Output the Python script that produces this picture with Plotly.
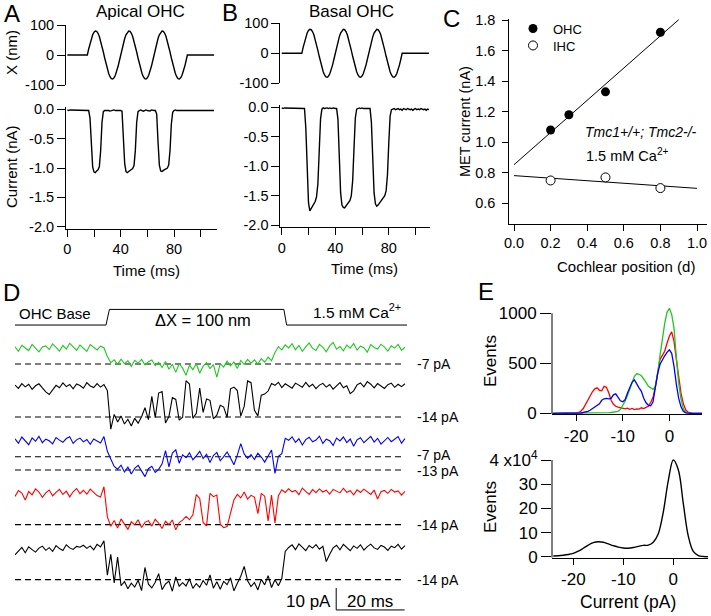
import numpy as np
import plotly.graph_objects as go

W, H = 711, 616
FONT = "Liberation Sans, Arial, sans-serif"
GREEN = "#1ec81e"

# ---------------- A / B : sinusoidal bundle deflection and MET current
stim_time_ms = [0] + list(range(15, 91)) + [110]
stim_nm = [0,
           0, 19.9, 38.5, 54.8, 67.5, 76.1, 79.8, 78.6, 72.4, 61.6, 47.0, 29.5, 10.0,
           -10.0, -29.5, -47.0, -61.6, -72.4, -78.6, -79.8, -76.1, -67.5, -54.8, -38.5, -19.9,
           0, 19.9, 38.5, 54.8, 67.5, 76.1, 79.8, 78.6, 72.4, 61.6, 47.0, 29.5, 10.0,
           -10.0, -29.5, -47.0, -61.6, -72.4, -78.6, -79.8, -76.1, -67.5, -54.8, -38.5, -19.9,
           0, 19.9, 38.5, 54.8, 67.5, 76.1, 79.8, 78.6, 72.4, 61.6, 47.0, 29.5, 10.0,
           -10.0, -29.5, -47.0, -61.6, -72.4, -78.6, -79.8, -76.1, -67.5, -54.8, -38.5, -19.9,
           0,
           0]

current_time_ms = list(range(111))
apical_nA = [
    -0.01, -0.02, -0.01, -0.01, -0.02, -0.01, -0.02, -0.01, -0.02, -0.01,
    -0.02, -0.01, -0.02, -0.02, -0.01, -0.02, -0.02,
    -0.15, -0.62, -0.98, -1.07, -1.08, -1.05, -1.03, -0.98, -0.70, -0.22, -0.04,
    -0.02, -0.02, -0.01, -0.02, -0.03, -0.02, -0.02, -0.01, -0.02, -0.02, -0.01, -0.02, -0.02, -0.03,
    -0.45, -0.92, -1.06, -1.08, -1.06, -1.04, -1.03, -1.01, -0.96, -0.70, -0.22, -0.04,
    -0.02, -0.01, -0.02, -0.03, -0.02, -0.01, -0.02, -0.02, -0.03, -0.01, -0.02, -0.02, -0.02,
    -0.08, -0.55, -0.95, -1.05, -1.06, -1.04, -1.03, -1.02, -1.00, -0.95, -0.70, -0.25, -0.05,
    -0.02, -0.01, -0.02, -0.02, -0.01, -0.02, -0.01, -0.02, -0.02, -0.01,
    -0.02, -0.01, -0.02, -0.02, -0.01, -0.02, -0.01, -0.02, -0.01, -0.02,
    -0.02, -0.01, -0.02, -0.01, -0.02, -0.02, -0.01, -0.02, -0.01, -0.02,
    -0.02]
basal_nA = [
    -0.01, -0.02, -0.01, -0.01, -0.02, -0.01, -0.01, -0.02, -0.01, -0.02,
    -0.01, -0.01, -0.02, -0.01, -0.02, -0.01, -0.01, -0.02,
    -0.35, -1.10, -1.62, -1.76, -1.72, -1.68, -1.64, -1.60, -1.52, -1.30, -0.75, -0.20, -0.03,
    -0.01, -0.02, -0.01, -0.01, -0.02, -0.01, -0.02, -0.01, -0.01, -0.02, -0.02,
    -0.20, -0.85, -1.45, -1.66, -1.70, -1.71, -1.68, -1.65, -1.62, -1.58, -1.50, -1.25, -0.70, -0.18, -0.03,
    -0.02, -0.01, -0.02, -0.01, -0.02, -0.02, -0.01, -0.02, -0.01, -0.02,
    -0.25, -0.90, -1.45, -1.64, -1.68, -1.66, -1.63, -1.60, -1.57, -1.54, -1.50, -1.42, -1.15, -0.60, -0.15, -0.04,
    -0.03, -0.02, -0.04, -0.03, -0.02, -0.04, -0.03, -0.05, -0.02, -0.03,
    -0.04, -0.02, -0.03, -0.04, -0.03, -0.05, -0.03, -0.02, -0.04, -0.03,
    -0.04, -0.02, -0.03, -0.04, -0.03, -0.05, -0.03, -0.04]

# ---------------- C : MET current vs cochlear position
ohc_position = [0.2, 0.3, 0.5, 0.8]
ohc_nA = [1.08, 1.18, 1.33, 1.72]
ihc_position = [0.2, 0.5, 0.8]
ihc_nA = [0.75, 0.77, 0.70]

# ---------------- D : single-channel records (pA re. closed level)
trace_time_ms = list(range(115))
green_pA = [
    0.8, -1.2, 1.5, 0.3, -0.9, 1.9, 0.2, -1.5, 0.7, 1.2,
    -0.4, 2.1, 0.6, -1.1, 1.4, -0.2, 2.4, 0.9, -0.8, 1.6,
    0.1, -1.3, 1.8, 0.5, -0.6, 1.1, 0.4, -3.6, -6.4, -5.1,
    -7.2, -4.8, -6.9, -5.6, -8.1, -5.3, -6.6, -4.9, -7.4, -6.0,
    -5.2, -7.8, -6.3, -8.6, -5.9, -9.4, -7.1, -10.8, -6.8, -8.9,
    -12.1, -7.5, -9.6, -6.9, -11.2, -8.0, -6.4, -9.1, -7.3, -13.0,
    -6.8, -8.4, -5.7, -7.9, -6.1, -9.0, -5.4, -7.2, -4.9, -6.6,
    -5.1, -7.0, -4.6, -6.2, -3.9, -5.5, -1.8, 0.9, -0.6, 1.7,
    0.3, 2.2, -0.5, 1.4, -1.2, 0.8, 2.6, 0.1, -0.9, 1.9,
    0.6, -1.4, 1.2, 2.8, -0.3, 0.9, -1.0, 1.6, 0.2, 2.3,
    -0.7, 1.1, 0.4, -1.6, 1.8, 0.5, -0.2, 2.0, 0.7, -1.1,
    1.3, 0.2, 1.9, -0.8, 0.6]
black1_pA = [
    0.5, -1.0, 1.2, -0.3, 0.9, -1.4, 0.2, 1.1, -0.8, -2.6,
    -3.8, -1.9, 0.4, -0.7, 1.5, -0.2, 0.8, -1.2, 1.0, 0.3,
    -0.9, 1.6, 0.1, -0.6, 1.2, -0.4, 0.7, -2.0, -19.5, -12.8,
    -16.3, -13.5, -17.2, -15.0, -18.1, -14.6, -16.8, -13.9, -9.8, -15.2,
    -4.6, -14.3, -3.1, -2.4, -16.7, -13.8, -5.2, -6.0, -15.4, -14.1,
    2.5, 1.0, -14.6, -12.3, -0.8, -11.9, -5.8, -6.4, -14.8, -13.2,
    -8.7, -9.5, -14.2, -1.2, -0.4, -2.0, -13.6, -9.2, 2.4, 1.6,
    -11.0, -13.5, -4.1, -3.6, -2.2, 1.2, 0.4, 1.8, -0.6, 1.1,
    0.2, -0.9, 1.4, 0.6, -0.5, 1.7, -0.2, 0.9, -1.1, 0.5,
    1.3, -0.4, 0.8, -1.3, 0.4, 1.6, -0.7, 0.2, -3.4, -2.1,
    0.6, 1.5, -0.3, 2.1, 0.9, -0.8, 1.2, 0.1, -1.0, 0.7,
    1.4, -0.5, 0.9, -0.2, 1.1]
blue_pA = [
    1.2, -0.8, 2.0, 0.4, -1.5, 1.6, 0.1, 2.3, -0.6, 1.0,
    0.3, -1.1, 1.8, 0.6, -0.4, 1.3, 2.1, -0.9, 0.7, 1.5,
    -0.2, 0.9, -1.3, 1.1, 0.2, -0.7, 2.2, -4.5, -8.0, -11.4,
    -12.6, -10.8, -13.9, -11.7, -14.8, -12.2, -10.9, -13.5, -16.0, -12.4,
    -11.3, -14.1, -12.7, -10.2, -4.2, -11.6, -5.3, -3.8, -9.9, -6.1,
    -7.4, -5.2, -8.3, -6.6, -4.5, -7.8, -5.9, -9.6, -6.4, -5.0,
    -8.8, -6.9, -4.8, -7.5, -10.6, -6.2, -1.0, -5.7, -7.7, -6.0,
    -8.2, -5.4, -7.1, -9.4, -6.5, -3.9, -14.5, -6.8, -5.6, 1.4,
    0.5, 2.1, -0.4, 1.2, -1.6, 0.8, 1.9, -0.2, 0.6, 2.4,
    -0.9, 1.0, 0.3, -1.8, 1.5, 0.2, 2.0, -0.5, 1.1, -2.2,
    0.7, 1.7, -0.6, 0.9, 2.3, -0.3, 1.4, -1.2, 0.4, 1.8,
    -0.1, 1.0, 2.2, -0.8, 1.3]
red_pA = [
    -1.2, 1.5, 0.3, -2.8, 1.0, -0.5, 2.2, 0.8, -1.6, 0.4,
    1.7, -0.9, 0.6, 2.0, -0.3, 1.2, -1.4, 0.9, 2.4, 0.1,
    1.6, -0.2, 2.1, 0.7, -0.8, -1.5, 3.2, -10.5, -14.8, -12.1,
    -15.6, -11.4, -13.8, -16.2, -12.7, -14.1, -11.8, -15.3, -13.0, -12.2,
    -14.7, -11.6, -13.4, -15.8, -12.5, -14.0, -11.9, -16.4, -13.1, -12.0,
    -10.3, -11.8, -9.6, -0.4, -2.1, -13.0, -14.6, 0.2, -1.3, -0.6,
    -13.8, -15.4, -14.9, -8.6, -2.8, -0.3, -1.9, 0.8, -2.4, -0.7,
    -1.5, -9.0, 0.2, -1.1, -12.3, -0.6, -13.2, -0.9, 1.8, 0.6,
    2.3, 0.9, 1.5, -0.4, 2.6, 1.1, -0.3, 1.9, 0.5, 2.2,
    0.8, 1.6, -0.2, 2.0, 1.2, 0.4, 2.5, 0.7, 1.4, -0.5,
    1.8, 0.6, 2.1, 1.0, -0.3, 1.7, -2.4, 0.9, 1.5, 0.2,
    2.0, 0.8, 1.3, -0.6, 1.1]
black2_pA = [
    -2.8, -1.0, 0.6, -1.8, 0.9, -0.4, -1.5, 0.3, 1.2, -0.7,
    0.5, -1.2, 1.4, 0.1, -0.8, 1.8, 0.4, -0.3, 1.1, 0.7,
    1.6, 0.2, 1.3, -0.5, 2.0, 0.8, 3.6, -12.0, -2.5, -15.5,
    -3.8, -16.8, -14.9, -18.2, -15.6, -17.4, -14.3, -19.0, -8.5, -16.1,
    -17.8, -15.2, -11.3, -18.6, -16.0, -14.7, -19.3, -12.8, -17.0, -15.4,
    -16.9, -13.6, -18.0, -15.8, -17.5, -14.4, -16.6, -11.9, -17.9, -15.0,
    -18.4, -14.8, -16.3, -13.2, -19.1, -15.7, -12.5, -8.0, -14.6, -17.2,
    -15.3, -18.7, -13.9, -16.4, -12.2, -17.6, -14.1, -16.8, -13.5, -1.2,
    0.6, 1.8, -0.4, 2.2, 0.9, -0.8, 1.5, 0.3, 1.9, -0.2,
    1.1, -5.8, -2.5, 0.4, 1.6, -0.5, 2.0, 0.7, -0.9, 1.3,
    0.2, 1.8, -0.6, 1.0, 2.1, 0.4, -0.3, 1.5, 0.8, -0.7,
    1.2, 0.5, 2.0, -0.2, 1.4]
open_levels_pA = {"green": [-7], "black1": [-14], "blue": [-7, -13],
                  "red": [-14], "black2": [-14]}
step_time_ms = [0, 26.6, 27.6, 78.6, 79.4, 114.6]
step_nm = [0, 0, 100, 100, 0, 0]
scalebar_pA = 10
scalebar_ms = 20

# ---------------- E : amplitude histograms
hist_pA = np.arange(-25, 7.01, 0.5)
green_events = [0, 0, 0, 0, 0, 0, 0, 0, 0, 0, 0, 0, 0, 0, 0, 0, 0, 2, 0, 3,
                2, 4, 3, 5, 6, 8, 10, 14, 18, 40, 75, 120, 175, 240, 320, 370, 395, 390, 375, 345,
                310, 270, 255, 240, 270, 400, 580, 760, 900, 1010, 1050, 990, 850, 560, 300, 140, 45, 10, 2, 0,
                0, 0, 0, 0, 0]
red_events = [0, 0, 0, 0, 0, 0, 0, 0, 0, 0, 3, 8, 20, 45, 90, 140, 180, 215, 245, 255,
              230, 225, 270, 260, 205, 130, 90, 70, 62, 55, 50, 45, 52, 40, 48, 38, 45, 42, 55, 48,
              60, 70, 110, 160, 270, 420, 540, 580, 620, 700, 770, 815, 720, 540, 360, 200, 95, 35, 12, 3,
              0, 0, 0, 0, 0]
blue_events = [0, 0, 0, 0, 0, 0, 0, 0, 0, 0, 0, 0, 3, 8, 12, 20, 30, 45, 60, 75,
               95, 130, 145, 150, 145, 150, 185, 195, 160, 125, 115, 135, 200, 260, 310, 335, 290, 255, 220, 150,
               105, 80, 75, 115, 260, 400, 490, 540, 575, 610, 635, 600, 470, 290, 150, 65, 20, 5, 0, 0,
               0, 0, 0, 0, 0]
all_pA = list(range(-24, 8))
all_events_1e4 = [0.3, 0.4, 0.6, 0.9, 1.4, 2.3, 3.5, 4.8, 5.8, 6.2, 6.0, 5.3, 4.6, 4.0, 3.6, 3.5,
                  3.8, 4.3, 4.7, 4.8, 6.0, 9.5, 18.5, 31.5, 40.0, 36.0, 22.0, 8.5, 2.2, 0.5, 0.1, 0.0]


def dom_x(x0, x1):
    return [x0 / W, x1 / W]


def dom_y(top, bottom):
    return [1 - bottom / H, 1 - top / H]


def axis(**kw):
    a = dict(showgrid=False, zeroline=False, showline=True, linecolor="black", linewidth=1,
             ticks="outside", tickcolor="black", tickwidth=1, ticklen=7,
             tickfont=dict(family=FONT, size=14.5, color="black"))
    a.update(kw)
    return a


def text(s, x, y, size, angle=0, xanchor="center", **kw):
    return dict(text=s, x=x / W, y=1 - y / H, xref="paper", yref="paper", showarrow=False,
                textangle=angle, xanchor=xanchor, yanchor="middle",
                font=dict(family=FONT, size=size, color="black"), **kw)


fig = go.Figure()

# A and B
for xa_top, ya_top, xa_bot, ya_bot, cur in [("x", "y", "x2", "y2", apical_nA),
                                            ("x3", "y3", "x4", "y4", basal_nA)]:
    fig.add_trace(go.Scatter(x=stim_time_ms, y=stim_nm, xaxis=xa_top, yaxis=ya_top, mode="lines",
                             line=dict(color="black", width=1.4), showlegend=False))
    fig.add_trace(go.Scatter(x=current_time_ms, y=cur, xaxis=xa_bot, yaxis=ya_bot, mode="lines",
                             line=dict(color="black", width=1.4), showlegend=False))

# C
p = np.polyfit(ohc_position, ohc_nA, 1)
fx = np.array([0, 0.9])
fig.add_trace(go.Scatter(x=fx, y=np.polyval(p, fx), xaxis="x5", yaxis="y5", mode="lines",
                         line=dict(color="black", width=1), showlegend=False))
q = np.polyfit(ihc_position, ihc_nA, 1)
gx = np.array([0, 1.0])
fig.add_trace(go.Scatter(x=gx, y=np.polyval(q, gx), xaxis="x5", yaxis="y5", mode="lines",
                         line=dict(color="black", width=1), showlegend=False))
fig.add_trace(go.Scatter(x=ohc_position, y=ohc_nA, xaxis="x5", yaxis="y5", mode="markers",
                         name="OHC", legend="legend", marker=dict(color="black", size=9)))
fig.add_trace(go.Scatter(x=ihc_position, y=ihc_nA, xaxis="x5", yaxis="y5", mode="markers",
                         name="IHC", legend="legend2",
                         marker=dict(color="white", size=9, line=dict(color="black", width=1))))

# D
rows = [("green", green_pA, GREEN, 121.1), ("black1", black1_pA, "black", 104.0),
        ("blue", blue_pA, "#0000ff", 78.9), ("red", red_pA, "#ff0000", 55.1),
        ("black2", black2_pA, "black", 30.1)]
label_nudge = {("blue", -7): 1.0, ("blue", -13): -0.6}
annotations = []
for key, vals, col, off in rows:
    for lvl in open_levels_pA[key]:
        fig.add_trace(go.Scatter(x=[0, 114], y=[off + lvl, off + lvl], xaxis="x6", yaxis="y6",
                                 mode="lines", line=dict(color="black", width=1.1, dash="6px,4px"),
                                 showlegend=False, hoverinfo="skip"))
        annotations.append(dict(text=f"{lvl} pA", x=415 / W,
                                y=off + lvl + label_nudge.get((key, lvl), 0),
                                xref="paper", yref="y6", showarrow=False,
                                xanchor="left", yanchor="middle",
                                font=dict(family=FONT, size=14, color="black")))
    fig.add_trace(go.Scatter(x=trace_time_ms, y=[off + v for v in vals], xaxis="x6", yaxis="y6",
                             mode="lines", line=dict(color=col, width=1.1), showlegend=False))
fig.add_trace(go.Scatter(x=step_time_ms, y=[131.8 + v * 0.071 for v in step_nm],
                         xaxis="x6", yaxis="y6", mode="lines",
                         line=dict(color="black", width=1), showlegend=False))

sb_t, sb_y = 93.9, 2.3
shapes = [
    dict(type="line", xref="x6", yref="y6", x0=sb_t, x1=sb_t, y0=sb_y, y1=sb_y + scalebar_pA,
         line=dict(color="black", width=1)),
    dict(type="line", xref="x6", yref="y6", x0=sb_t, x1=sb_t + scalebar_ms, y0=sb_y, y1=sb_y,
         line=dict(color="black", width=1)),
    dict(type="line", xref="x7 domain", yref="y7", x0=0, x1=0, y0=-10, y1=1000,
         line=dict(color="black", width=1)),
    dict(type="line", xref="x8 domain", yref="y8", x0=0, x1=0, y0=-0.4, y1=40,
         line=dict(color="black", width=1)),
]

# E
for ev, col in [(red_events, "#ff0000"), (green_events, GREEN), (blue_events, "#0000ff")]:
    fig.add_trace(go.Scatter(x=hist_pA, y=ev, xaxis="x7", yaxis="y7", mode="lines",
                             line=dict(color=col, width=1.3), showlegend=False))
fig.add_trace(go.Scatter(x=all_pA, y=all_events_1e4, xaxis="x8", yaxis="y8", mode="lines",
                         line=dict(color="black", width=1.4, shape="spline"), showlegend=False))

dec = lambda v: [f"{t:.1f}" for t in v]
legend_style = dict(xanchor="left", yanchor="middle", bgcolor="rgba(0,0,0,0)",
                    font=dict(family=FONT, size=13, color="black"), itemwidth=30)
time_minor = dict(dtick=20, ticks="outside", ticklen=7, tickcolor="black", tickwidth=1)
fig.update_layout(
    width=W, height=H, margin=dict(l=0, r=0, t=0, b=0, autoexpand=False),
    paper_bgcolor="white", plot_bgcolor="white",
    font=dict(family=FONT, color="black"),
    showlegend=True,
    legend=dict(x=513 / W, y=1 - 28.5 / H, **legend_style),
    legend2=dict(x=513 / W, y=1 - 45.5 / H, **legend_style),
    # A
    xaxis=axis(domain=dom_x(66, 216.7), range=[-1, 112], visible=False, anchor="y"),
    yaxis=axis(domain=dom_y(25, 85), range=[-100, 100], anchor="x", ticklen=8,
               tickvals=[-100, 0, 100], ticktext=["-100", "0", "100"]),
    xaxis2=axis(domain=dom_x(66, 216.7), range=[-1, 112], anchor="y2",
                tick0=0, dtick=40, minor=time_minor),
    yaxis2=axis(domain=dom_y(107, 229), range=[-2.04, 0.04], anchor="x2", ticklen=8,
                tickvals=[0, -0.5, -1, -1.5, -2], ticktext=["0.0", "-0.5", "-1.0", "-1.5", "-2.0"]),
    # B
    xaxis3=axis(domain=dom_x(280.4, 430), range=[-1, 110.8], visible=False, anchor="y3"),
    yaxis3=axis(domain=dom_y(23.3, 83.3), range=[-100, 100], anchor="x3", ticklen=8,
                tickvals=[-100, 0, 100], ticktext=["-100", "0", "100"]),
    xaxis4=axis(domain=dom_x(280.4, 430), range=[-1, 110.8], anchor="y4",
                tick0=0, dtick=40, minor=time_minor),
    yaxis4=axis(domain=dom_y(105, 227.4), range=[-2.04, 0.04], anchor="x4", ticklen=8,
                tickvals=[0, -0.5, -1, -1.5, -2], ticktext=["0.0", "-0.5", "-1.0", "-1.5", "-2.0"]),
    # C
    xaxis5=axis(domain=dom_x(509.3, 706.7), range=[-0.0257, 1.053], anchor="y5", ticklen=6,
                tickvals=[0, 0.2, 0.4, 0.6, 0.8, 1.0], ticktext=dec([0, 0.2, 0.4, 0.6, 0.8, 1.0])),
    yaxis5=axis(domain=dom_y(18.5, 224), range=[0.465, 1.81], anchor="x5", ticklen=6,
                ticklabelstandoff=4,
                tickvals=[0.6, 0.8, 1.0, 1.2, 1.4, 1.6, 1.8],
                ticktext=dec([0.6, 0.8, 1.0, 1.2, 1.4, 1.6, 1.8])),
    # D
    xaxis6=dict(domain=dom_x(15, 407), range=[0, 114.6], visible=False, anchor="y6"),
    yaxis6=dict(domain=dom_y(300, 615), range=[0, 143.18], visible=False, anchor="x6"),
    # E
    xaxis7=axis(domain=dom_x(552, 702), range=[-25.17, 7.0], anchor="y7", ticklen=6,
                tickvals=[-20, -10, 0], ticktext=["-20", "-10", "0"],
                tickfont=dict(family=FONT, size=17, color="black")),
    yaxis7=axis(domain=dom_y(306, 414.3), range=[-10, 1073], anchor="x7", ticklen=11,
                showline=False, tickvals=[0, 500, 1000], ticktext=["0", "500", "1000"],
                tickfont=dict(family=FONT, size=17, color="black")),
    xaxis8=axis(domain=dom_x(552, 708), range=[-24.26, 6.94], anchor="y8", ticklen=6,
                tickvals=[-20, -10, 0], ticktext=["-20", "-10", "0"],
                tickfont=dict(family=FONT, size=17, color="black")),
    yaxis8=axis(domain=dom_y(456.4, 557.7), range=[-0.4, 41.5], anchor="x8", ticklen=10,
                showline=False, tickvals=[0, 10, 20, 30, 40],
                ticktext=["0", "10", "20", "30", "4 x10<sup>4</sup>"],
                tickfont=dict(family=FONT, size=17, color="black")),
    shapes=shapes,
)

annotations += [
    text("A", 11.5, 14, 24), text("B", 230, 13, 24), text("C", 451, 18, 24),
    text("D", 12, 292, 24), text("E", 486, 291, 24),
    text("Apical OHC", 140, 12, 17), text("Basal OHC", 351, 12, 17),
    text("X (nm)", 12, 52, 15, angle=-90), text("Current (nA)", 12, 167, 15, angle=-90),
    text("Time (ms)", 146, 270, 15), text("Time (ms)", 364, 268, 15),
    text("MET current (nA)", 465, 122, 14.5, angle=-90),
    text("Cochlear position (d)", 626, 266, 15),
    text("<i>Tmc1+/+; Tmc2-/-</i>", 641, 132, 14),
    text("1.5 mM Ca<sup>2+</sup>", 627, 155, 14.5),
    text("OHC Base", 16.5, 313, 15, xanchor="left"),
    text("ΔX = 100 nm", 203, 320, 16.5),
    text("1.5 mM Ca<sup>2+</sup>", 403, 311, 15.5, xanchor="right"),
    text("10 pA", 333, 601, 17, xanchor="right"),
    text("20 ms", 370, 601, 17),
    text("Events", 490, 361, 17, angle=-90), text("Events", 490, 507, 17, angle=-90),
    text("Current (pA)", 628, 602, 17.5),
]
fig.update_layout(annotations=annotations)

# the page body has a default 8px margin; drop it so the figure fills the window
fig.write_html("out.html", config={"displayModeBar": False},
               post_script="document.body.style.margin = '0px';")
